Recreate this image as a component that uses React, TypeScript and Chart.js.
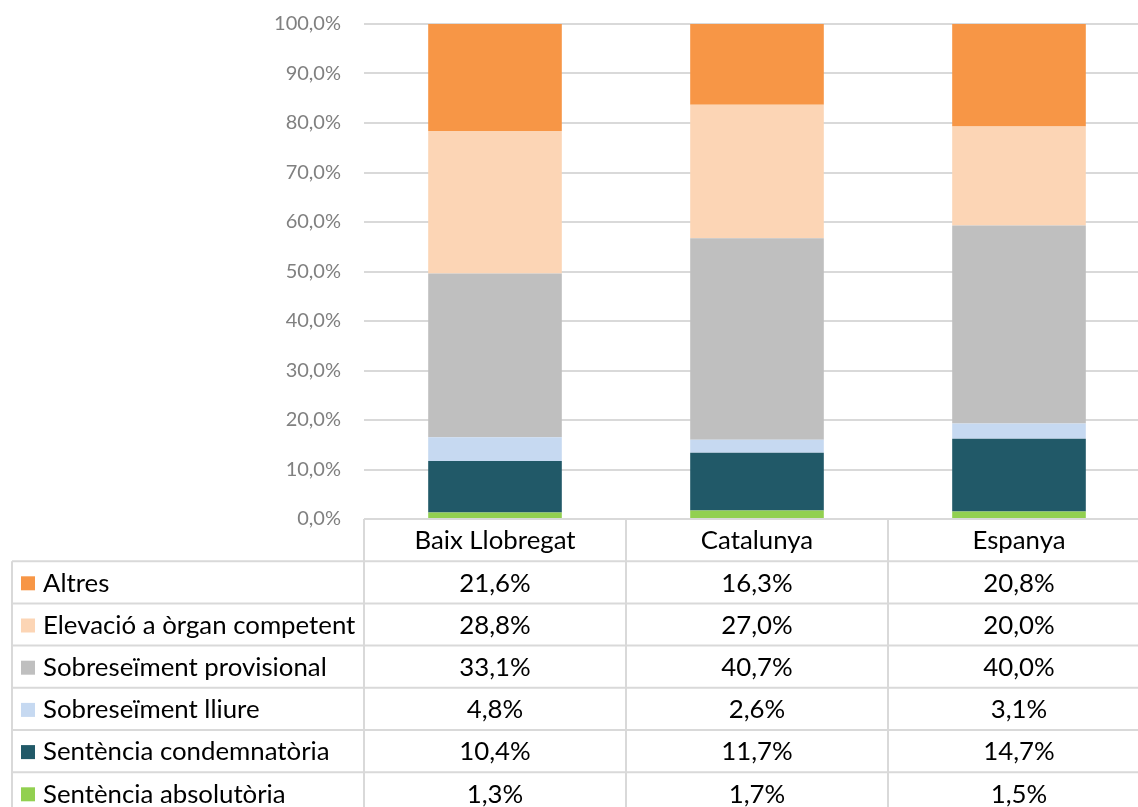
import React, { useEffect, useRef } from "react";
import { Chart, registerables } from "chart.js";

Chart.register(...registerables);

const categories = ["Baix Llobregat", "Catalunya", "Espanya"];
const seriesNames = [
  "Sentència absolutòria",
  "Sentència condemnatòria",
  "Sobreseïment lliure",
  "Sobreseïment provisional",
  "Elevació a òrgan competent",
  "Altres",
];
const absolutoria = [1.3, 1.7, 1.5];
const condemnatoria = [10.4, 11.7, 14.7];
const lliure = [4.8, 2.6, 3.1];
const provisional = [33.1, 40.7, 40.0];
const elevacio = [28.8, 27.0, 20.0];
const altres = [21.6, 16.3, 20.8];
const seriesColors = ["#92D050", "#215968", "#C6D9F1", "#BFBFBF", "#FCD5B5", "#F79646"];
const yTicks = [0, 10, 20, 30, 40, 50, 60, 70, 80, 90, 100];

const FONT = "Lato, 'Open Sans', sans-serif";
const W = 1160;
const H = 807;
const PLOT_TOP = 24;
const PLOT_BOTTOM = 519;

const fmt = (v: number) => v.toFixed(1).replace(".", ",") + "%";

const tablePlugin = {
  id: "dataTable",
  afterDraw(chart: any) {
    const ctx = chart.ctx as CanvasRenderingContext2D;
    const area = chart.chartArea;
    const xs = chart.scales.x;
    const top = area.bottom;
    const rowH = 42.2;
    const nRows = seriesNames.length + 1;
    const left = 12;
    const plotLeft = area.left;
    const right = W;
    const step = xs.getPixelForValue(1) - xs.getPixelForValue(0);
    ctx.save();
    ctx.strokeStyle = "#d9d9d9";
    ctx.lineWidth = 2;
    for (let r = 0; r <= nRows; r++) {
      const y = top + r * rowH;
      ctx.beginPath();
      ctx.moveTo(r === 0 ? plotLeft : left, y);
      ctx.lineTo(right, y);
      ctx.stroke();
    }
    ctx.beginPath();
    ctx.moveTo(left, top + rowH);
    ctx.lineTo(left, H + 10);
    ctx.stroke();
    for (let i = 0; i <= categories.length; i++) {
      const x = xs.getPixelForValue(0) - step / 2 + i * step;
      ctx.beginPath();
      ctx.moveTo(x, top);
      ctx.lineTo(x, H + 10);
      ctx.stroke();
    }
    ctx.fillStyle = "#000000";
    ctx.font = `25.8px ${FONT}`;
    ctx.textBaseline = "middle";
    ctx.textAlign = "center";
    categories.forEach((c, i) => {
      ctx.fillText(c, xs.getPixelForValue(i), top + rowH / 2 + 1);
    });
    const order = chart.data.datasets.map((_: any, i: number) => i).reverse();
    order.forEach((di: number, r: number) => {
      const ds = chart.data.datasets[di];
      const yc = top + (r + 1) * rowH + rowH / 2 + 1;
      ctx.fillStyle = ds.backgroundColor;
      ctx.fillRect(21, yc - 7, 14, 14);
      ctx.fillStyle = "#000000";
      ctx.textAlign = "left";
      ctx.fillText(ds.label, 43, yc);
      ctx.textAlign = "center";
      (ds.data as number[]).forEach((v, i) => {
        ctx.fillText(fmt(v), xs.getPixelForValue(i), yc);
      });
    });
    ctx.restore();
  },
};

export default function App() {
  const ref = useRef<HTMLCanvasElement>(null);
  useEffect(() => {
    if (!ref.current) return;
    const values = [absolutoria, condemnatoria, lliure, provisional, elevacio, altres];
    const chart = new Chart(ref.current, {
      type: "bar",
      data: {
        labels: categories,
        datasets: seriesNames.map((name, i) => ({
          label: name,
          data: values[i],
          backgroundColor: seriesColors[i],
          borderWidth: 0,
          categoryPercentage: 1,
          barPercentage: 0.51,
        })),
      },
      options: {
        responsive: false,
        animation: false,
        layout: { padding: { top: PLOT_TOP, bottom: H - PLOT_BOTTOM, left: 0, right: W - 1150 } },
        plugins: { legend: { display: false }, tooltip: { enabled: false } },
        scales: {
          x: { stacked: true, display: false },
          y: {
            stacked: true,
            min: 0,
            max: 100,
            afterFit: (s: any) => {
              s.width = 364;
              s.paddingTop = 0;
              s.paddingBottom = 0;
            },
            afterBuildTicks: (s: any) => {
              s.ticks = yTicks.map((v) => ({ value: v }));
            },
            ticks: {
              padding: 23,
              color: "#808080",
              font: { family: FONT, size: 20 },
              callback: (v: any) => fmt(Number(v)),
            },
            grid: { color: "#d9d9d9", lineWidth: 2, drawTicks: false },
            border: { display: false },
          },
        },
      },
      plugins: [tablePlugin],
    });
    return () => chart.destroy();
  }, []);
  return (
    <div style={{ position: "fixed", left: 0, top: 0, width: "100vw", height: "100vh", overflow: "hidden", background: "#fff" }}>
      <canvas ref={ref} width={W} height={H} style={{ width: W, height: H, display: "block" }} />
    </div>
  );
}
